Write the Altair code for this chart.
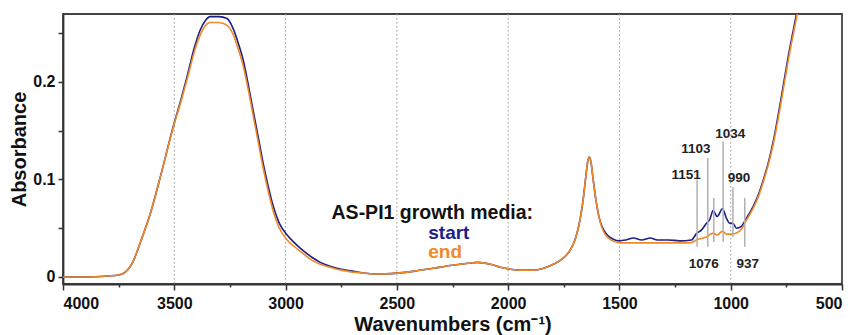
import altair as alt
import pandas as pd

FONT = "Liberation Sans"

# ---- spectra ----
wn_start = [4000, 3900, 3800, 3750, 3720, 3700, 3685, 3650, 3609, 3560, 3505, 3470, 3442, 3410, 3384,
            3360, 3339, 3300, 3263, 3236, 3210, 3191, 3170, 3146, 3120, 3101, 3080, 3056, 3030, 2993,
            2960, 2921, 2880, 2844, 2800, 2750, 2700, 2650, 2588, 2500, 2420, 2336, 2250, 2180, 2139,
            2080, 2035, 1990, 1940, 1887, 1840, 1797, 1760, 1720, 1700, 1685, 1670, 1660, 1650, 1642,
            1636, 1628, 1618, 1605, 1595, 1585, 1570, 1550, 1530, 1500, 1470, 1437, 1400, 1361, 1330,
            1280, 1230, 1176, 1154, 1132, 1109, 1094, 1079, 1061, 1037, 1019, 1004, 990, 974, 952,
            930, 900, 870, 853, 830, 808, 776, 740, 700, 690]
abs_start = [0.000, 0.000, 0.001, 0.002, 0.005, 0.010, 0.016, 0.037, 0.064, 0.105, 0.154, 0.182, 0.206,
             0.235, 0.253, 0.263, 0.267, 0.267, 0.265, 0.255, 0.238, 0.223, 0.200, 0.171, 0.140, 0.117,
             0.095, 0.073, 0.056, 0.043, 0.035, 0.027, 0.020, 0.015, 0.011, 0.008, 0.006, 0.004, 0.003,
             0.004, 0.006, 0.009, 0.012, 0.014, 0.015, 0.013, 0.010, 0.008, 0.007, 0.007, 0.009, 0.013,
             0.018, 0.028, 0.038, 0.050, 0.068, 0.085, 0.105, 0.119, 0.123, 0.118, 0.100, 0.078, 0.065,
             0.056, 0.048, 0.042, 0.039, 0.037, 0.038, 0.040, 0.038, 0.040, 0.038, 0.038, 0.037, 0.038,
             0.0445, 0.048, 0.055, 0.059, 0.068, 0.062, 0.070, 0.060, 0.055, 0.055, 0.050, 0.052, 0.060,
             0.072, 0.088, 0.100, 0.118, 0.140, 0.180, 0.228, 0.275, 0.287]

wn_end = [4000, 3900, 3800, 3750, 3720, 3700, 3685, 3650, 3609, 3560, 3505, 3470, 3442, 3410, 3384,
          3360, 3339, 3300, 3263, 3236, 3210, 3191, 3170, 3146, 3120, 3101, 3080, 3056, 3030, 2993,
          2960, 2921, 2880, 2844, 2800, 2750, 2700, 2650, 2588, 2500, 2420, 2336, 2250, 2180, 2139,
          2080, 2035, 1990, 1940, 1887, 1840, 1797, 1760, 1720, 1700, 1685, 1670, 1660, 1650, 1642,
          1636, 1628, 1618, 1605, 1595, 1585, 1570, 1550, 1530, 1500, 1450, 1400, 1300, 1180, 1154,
          1109, 1079, 1061, 1037, 1019, 995, 974, 952, 930, 900, 870, 853, 830, 808, 776, 740, 700, 690]
abs_end = [0.000, 0.000, 0.001, 0.002, 0.005, 0.010, 0.016, 0.037, 0.064, 0.105, 0.153, 0.180, 0.203,
           0.231, 0.248, 0.258, 0.261, 0.261, 0.258, 0.249, 0.232, 0.217, 0.195, 0.166, 0.135, 0.112,
           0.090, 0.068, 0.051, 0.038, 0.031, 0.024, 0.017, 0.013, 0.010, 0.007, 0.005, 0.004, 0.003,
           0.004, 0.006, 0.009, 0.012, 0.014, 0.015, 0.013, 0.010, 0.008, 0.007, 0.007, 0.009, 0.013,
           0.018, 0.028, 0.038, 0.050, 0.068, 0.085, 0.105, 0.119, 0.123, 0.118, 0.100, 0.078, 0.065,
           0.055, 0.046, 0.040, 0.037, 0.035, 0.035, 0.035, 0.035, 0.035, 0.038, 0.041, 0.045, 0.043,
           0.047, 0.044, 0.044, 0.045, 0.049, 0.058, 0.070, 0.086, 0.098, 0.116, 0.137, 0.176, 0.224,
           0.271, 0.283]

# ---- annotations ----
grid_wn = [3500, 3000, 2500, 2000, 1500, 1000]
peak_wn = [1151, 1103, 1076, 1034, 990, 937]
peak_label = ["1151", "1103", "1076", "1034", "990", "937"]
peak_top = [0.100, 0.122, 0.081, 0.139, 0.092, 0.081]
peak_bottom = [0.031, 0.031, 0.036, 0.036, 0.041, 0.031]
label_y = [0.105, 0.131, 0.0135, 0.147, 0.101, 0.0135]
label_dx = [-11, -12, -10, 7, 6, 3]   # label offset from its line, in pixels

legend_title = "AS-PI1 growth media:"
legend_items = ["start", "end"]
legend_colors = ["#1e1e86", "#f08a28"]

x_ticks = [4000, 3750, 3500, 3250, 3000, 2750, 2500, 2250, 2000, 1750, 1500, 1250, 1000, 750, 500]
y_ticks = [0, 0.05, 0.1, 0.15, 0.2, 0.25]

W, H = 779, 270
XDOM = [4000, 500]
YDOM = [-0.0072, 0.2697]
WN_PER_PX = (XDOM[0] - XDOM[1]) / W

df_s = pd.DataFrame({"wn": wn_start, "a": abs_start})
df_e = pd.DataFrame({"wn": wn_end, "a": abs_end})
df_grid = pd.DataFrame({"wn": grid_wn})
df_peaks = pd.DataFrame({"wn": peak_wn, "label": peak_label, "top": peak_top,
                         "bottom": peak_bottom, "ly": label_y, "dx": label_dx})

xscale = alt.Scale(domain=XDOM, nice=False, zero=False)
yscale = alt.Scale(domain=YDOM, nice=False, zero=False)

xaxis = alt.Axis(
    title="Wavenumbers (cm⁻¹)", values=x_ticks,
    labelExpr="datum.value % 500 == 0 ? datum.label : ''",
    format="d", grid=False,
    tickSize=alt.condition("datum.value % 500 == 0", alt.value(6), alt.value(3)),
    labelPadding=5, titlePadding=3,
)
yaxis = alt.Axis(
    title="Absorbance", values=y_ticks,
    labelExpr="abs(round(datum.value * 20)) % 2 == 0 ? datum.label : ''",
    format=".1~f", grid=False, tickSize=5, labelPadding=3, titlePadding=3,
)

base_x = alt.X("wn:Q", scale=xscale, axis=xaxis)

grid = alt.Chart(df_grid).mark_rule(color="#9a9a9a", strokeDash=[1.5, 2.5], strokeWidth=1).encode(
    x=alt.X("wn:Q", scale=xscale, axis=xaxis)
)

line_s = alt.Chart(df_s).mark_line(color=legend_colors[0], strokeWidth=1.6, interpolate="monotone",
                                   clip=True).encode(
    x=base_x, y=alt.Y("a:Q", scale=yscale, axis=yaxis)
)
line_e = alt.Chart(df_e).mark_line(color=legend_colors[1], strokeWidth=1.6, interpolate="monotone",
                                   clip=True).encode(
    x=base_x, y=alt.Y("a:Q", scale=yscale, axis=yaxis)
)

peak_rules = alt.Chart(df_peaks).mark_rule(color="#b0b0b0", strokeWidth=1.5).encode(
    x=alt.X("wn:Q", scale=xscale), y=alt.Y("top:Q", scale=yscale), y2="bottom:Q"
)
peak_text = alt.Chart(df_peaks).transform_calculate(
    lx=f"datum.wn - datum.dx * {WN_PER_PX}"
).mark_text(font=FONT, fontSize=13.5, fontWeight="bold", color="#222",
            baseline="middle", align="center").encode(
    x=alt.X("lx:Q", scale=xscale), y=alt.Y("ly:Q", scale=yscale), text="label:N"
)

df_leg_title = pd.DataFrame({"wn": [1888], "y": [0.0592], "t": [legend_title]})
leg_title = alt.Chart(df_leg_title).mark_text(font=FONT, fontSize=19.5, fontWeight="bold", color="#111",
                                              align="right", baseline="alphabetic").encode(
    x=alt.X("wn:Q", scale=xscale), y=alt.Y("y:Q", scale=yscale), text="t:N"
)
df_leg = pd.DataFrame({"wn": [2359, 2359], "y": [0.0392, 0.0197], "t": legend_items})
leg_items = alt.Chart(df_leg).mark_text(font=FONT, fontSize=19, fontWeight="bold",
                                        align="left", baseline="alphabetic").encode(
    x=alt.X("wn:Q", scale=xscale), y=alt.Y("y:Q", scale=yscale), text="t:N",
    color=alt.Color("t:N", scale=alt.Scale(domain=legend_items, range=legend_colors), legend=None)
)

chart = alt.layer(grid, line_s, line_e, peak_rules, peak_text, leg_title, leg_items).properties(
    width=W, height=H,
    autosize=alt.AutoSizeParams(type="none"),
    padding={"left": 63, "top": 14, "right": 16, "bottom": 51},
    background="white",
).configure_view(
    stroke="#444", strokeWidth=1.8
).configure_axis(
    domainColor="#333", domainWidth=1.8, tickColor="#333", tickWidth=1.5,
    labelFont=FONT, labelFontSize=16, labelFontWeight="bold", labelColor="#111",
    titleFont=FONT, titleFontSize=20, titleFontWeight="bold", titleColor="#111",
)

chart.save("out.html", embed_options={"renderer": "svg", "actions": False})
